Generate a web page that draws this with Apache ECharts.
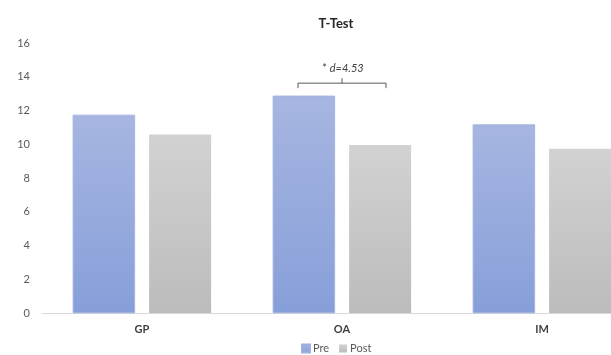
<!DOCTYPE html>
<html>
<head>
<meta charset="utf-8">
<script src="https://cdn.jsdelivr.net/npm/echarts@6/dist/echarts.min.js"></script>
<style>
  html, body { margin: 0; padding: 0; background: #ffffff; overflow: hidden; width: 611px; height: 355px; }
  /* the plot runs past the right edge of the page */
  #chart { width: 642px; height: 355px; }
</style>
</head>
<body>
<div id="chart"></div>
<script>
// Group means before and after, per scale
const categories = ['GP', 'OA', 'IM'];
const preValues = [11.74, 12.87, 11.17];
const postValues = [10.58, 9.95, 9.73];
const seriesNames = ['Pre', 'Post'];

// Significance annotation (effect size) over one category
const effectCategory = 'OA';
const effectMark = '*';
const effectText = 'd=4.53';
const effectLevel = 13.62; // bracket height on the value axis

const FONT = 'Lato, "Open Sans", sans-serif';
const chart = echarts.init(document.getElementById('chart'), null, { renderer: 'canvas' });

const preGradient = new echarts.graphic.LinearGradient(0, 0, 0, 1, [
  { offset: 0, color: '#a7b6e1' },
  { offset: 1, color: '#879fd9' }
]);
const postGradient = new echarts.graphic.LinearGradient(0, 0, 0, 1, [
  { offset: 0, color: '#d2d2d2' },
  { offset: 1, color: '#bcbcbc' }
]);

chart.setOption({
  animation: false,
  backgroundColor: '#ffffff',
  title: {
    text: 'T-Test',
    left: 331,
    top: 12,
    textAlign: 'center',
    textStyle: { fontFamily: FONT, fontWeight: 'bold', fontSize: 13, color: '#262626' }
  },
  legend: {
    data: seriesNames,
    bottom: -4,
    left: 296,
    itemWidth: 8,
    itemHeight: 8,
    itemGap: 10,
    icon: 'rect',
    textStyle: { fontFamily: FONT, fontSize: 11, color: '#595959', padding: [0, 0, 0, -2] }
  },
  grid: { left: 42, top: 43, right: 0, bottom: 42, containLabel: false },
  xAxis: {
    type: 'category',
    data: categories,
    axisLine: { lineStyle: { color: '#d9d9d9', width: 1 } },
    axisTick: { show: false },
    axisLabel: { fontFamily: FONT, fontWeight: 'bold', fontSize: 11, color: '#404040', margin: 11 }
  },
  yAxis: {
    type: 'value',
    min: 0,
    max: 16,
    interval: 2,
    axisLine: { show: false },
    axisTick: { show: false },
    splitLine: { show: false },
    axisLabel: { fontFamily: FONT, fontSize: 11, color: '#595959', margin: 12 }
  },
  series: [
    {
      name: seriesNames[0],
      type: 'bar',
      data: preValues,
      barWidth: 62,
      barGap: '23%',
      itemStyle: { color: preGradient, borderColor: '#9fb0de', borderWidth: 0.5 }
    },
    {
      name: seriesNames[1],
      type: 'bar',
      data: postValues,
      barWidth: 62,
      itemStyle: { color: postGradient }
    }
  ]
});

// Bracket joining the two bars of the annotated category
const cx = chart.convertToPixel({ xAxisIndex: 0 }, effectCategory);
const ly = chart.convertToPixel({ yAxisIndex: 0 }, effectLevel);
const half = 44;
chart.setOption({
  graphic: [
    {
      type: 'polyline',
      shape: { points: [[cx - half, ly + 5], [cx - half, ly], [cx + half, ly], [cx + half, ly + 5]] },
      style: { stroke: '#595959', lineWidth: 1, fill: null }
    },
    {
      type: 'line',
      shape: { x1: cx, y1: ly, x2: cx, y2: ly - 5 },
      style: { stroke: '#595959', lineWidth: 1 }
    },
    {
      type: 'text',
      x: cx + 1,
      y: ly - 15,
      style: {
        text: '{m|' + effectMark + ' }{d|' + effectText + '}',
        align: 'center',
        verticalAlign: 'middle',
        rich: {
          m: { fontFamily: FONT, fontSize: 11, fill: '#404040' },
          d: { fontFamily: FONT, fontSize: 11, fontStyle: 'italic', fill: '#404040' }
        }
      }
    }
  ]
});
</script>
</body>
</html>
